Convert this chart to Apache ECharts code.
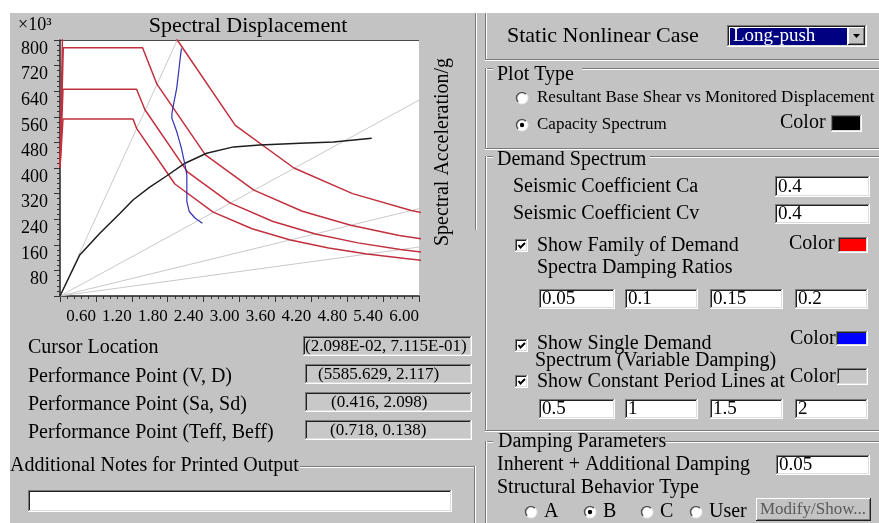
<!DOCTYPE html>
<html>
<head>
<meta charset="utf-8">
<script src="https://cdn.jsdelivr.net/npm/echarts@6/dist/echarts.min.js"></script>
<style>
  html, body { margin: 0; padding: 0; background: #fff; }
  #wrap { position: relative; width: 879px; height: 523px; overflow: hidden; }
  #dlg { position: absolute; left: 10px; top: 13px; width: 869px; height: 510px; background: #c3c3c3; }
  #chart { position: absolute; left: 0; top: 0; width: 879px; height: 523px; }
</style>
</head>
<body>
<div id="wrap">
  <div id="dlg"></div>
  <div id="chart"></div>
</div>
<script>
  // Sd (in) vs Sa (x10^-3 g)
  var sdTicks = [0.60, 1.20, 1.80, 2.40, 3.00, 3.60, 4.20, 4.80, 5.40, 6.00];
  var saTicks = [80, 160, 240, 320, 400, 480, 560, 640, 720, 800];

  // constant period lines T = 0.5, 1, 1.5, 2
  var periodLine05 = [[0, 0], [1.96, 800]];
  var periodLine10 = [[0, 0], [6.0, 612]];
  var periodLine15 = [[0, 0], [6.0, 273]];
  var periodLine20 = [[0, 0], [6.0, 153]];

  // family of demand spectra (damping 0.05, 0.1, 0.15, 0.2)
  var demand005 = [[0, 400], [0.06, 1000], [1.56, 1000], [1.96, 800], [2.93, 533], [3.91, 400], [4.89, 320], [5.87, 267], [6.85, 229]];
  var demand010 = [[0, 400], [0.055, 776], [1.38, 776], [1.62, 662], [2.43, 441], [3.24, 331], [4.05, 265], [4.86, 221], [5.67, 189], [6.48, 166]];
  var demand015 = [[0, 400], [0.05, 646], [1.28, 646], [1.42, 582], [2.13, 388], [2.84, 291], [3.56, 233], [4.27, 194], [4.98, 166], [5.69, 145], [6.40, 129]];
  var demand020 = [[0, 400], [0.05, 553], [1.22, 553], [1.28, 524], [1.92, 350], [2.56, 262], [3.21, 210], [3.85, 175], [4.49, 150], [5.13, 131], [5.77, 117], [6.41, 105]];

  // capacity spectrum
  var capacity = [[0, 0], [0.33, 128], [0.67, 197], [1.0, 258], [1.22, 300], [1.5, 340], [1.78, 375], [2.09, 415], [2.45, 446], [2.9, 466], [3.34, 472], [4.01, 477], [4.57, 481], [5.21, 493]];

  // single demand spectrum (variable damping)
  var singleDemand = [[2.03, 774], [2.01, 745], [1.99, 711], [1.97, 680], [1.95, 649], [1.92, 620], [1.89, 592], [1.87, 570], [1.87, 555], [1.91, 535], [1.95, 514], [1.99, 488], [2.03, 461], [2.06, 435], [2.09, 409], [2.12, 378], [2.12, 340], [2.12, 295], [2.16, 264], [2.26, 243], [2.38, 227]];

  var dampingRatios = ['0.05', '0.1', '0.15', '0.2'];
  var periodValues = ['0.5', '1', '1.5', '2'];

  var FONT = '"Liberation Serif", "Times New Roman", serif';
  var DARK = '#7a7a7a';

  function txt (x, y, s, size, extra) {
    var st = {
      text: s, x: x, y: y,
      fontSize: size, fontFamily: FONT, fill: '#000',
      align: 'left', verticalAlign: 'middle',
      textAlign: 'left', textVerticalAlign: 'middle'
    };
    for (var k in extra) st[k] = extra[k];
    return {type: 'text', silent: true, style: st};
  }
  function ln (x1, y1, x2, y2, c, w) {
    return {type: 'line', silent: true, shape: {x1: x1, y1: y1, x2: x2, y2: y2}, style: {stroke: c, lineWidth: w || 1}};
  }
  function etchH (x1, x2, y) {
    return [ln(x1, y + 0.5, x2, y + 0.5, DARK), ln(x1, y + 1.5, x2, y + 1.5, '#fff')];
  }
  function etchV (x, y1, y2) {
    return [ln(x + 0.5, y1, x + 0.5, y2, DARK), ln(x + 1.5, y1, x + 1.5, y2, '#fff')];
  }
  function sunken (x, y, w, h, fill) {
    return [
      {type: 'rect', silent: true, shape: {x: x, y: y, width: w, height: h}, style: {fill: fill}},
      ln(x, y + 0.5, x + w, y + 0.5, DARK), ln(x + 0.5, y, x + 0.5, y + h, DARK),
      ln(x + 1, y + 1.5, x + w - 1, y + 1.5, '#202020'), ln(x + 1.5, y + 1, x + 1.5, y + h - 1, '#202020'),
      ln(x, y + h - 0.5, x + w, y + h - 0.5, '#fff'), ln(x + w - 0.5, y, x + w - 0.5, y + h, '#fff'),
      ln(x + 1, y + h - 1.5, x + w - 1, y + h - 1.5, '#dcdcdc'), ln(x + w - 1.5, y + 1, x + w - 1.5, y + h - 1, '#dcdcdc')
    ];
  }
  function raised (x, y, w, h) {
    return [
      {type: 'rect', silent: true, shape: {x: x, y: y, width: w, height: h}, style: {fill: '#c3c3c3'}},
      ln(x, y + 0.5, x + w, y + 0.5, '#fff'), ln(x + 0.5, y, x + 0.5, y + h, '#fff'),
      ln(x, y + h - 0.5, x + w, y + h - 0.5, '#202020'), ln(x + w - 0.5, y, x + w - 0.5, y + h, '#202020'),
      ln(x + 1, y + h - 1.5, x + w - 1, y + h - 1.5, DARK), ln(x + w - 1.5, y + 1, x + w - 1.5, y + h - 1, DARK)
    ];
  }
  function checkbox (x, y) {
    return sunken(x, y, 13, 13, '#fff').concat([{
      type: 'polyline', silent: true,
      shape: {points: [[x + 3.5, y + 6], [x + 5.5, y + 8.5], [x + 10, y + 4]]},
      style: {stroke: '#000', lineWidth: 2, fill: null}
    }]);
  }
  function radio (cx, cy, on) {
    var out = [
      {type: 'circle', silent: true, shape: {cx: cx, cy: cy, r: 6}, style: {fill: '#fff', stroke: '#e8e8e8', lineWidth: 1}},
      {type: 'arc', silent: true, shape: {cx: cx, cy: cy, r: 5.5, startAngle: Math.PI * 0.75, endAngle: Math.PI * 1.75, clockwise: true}, style: {stroke: '#555', lineWidth: 1.6, fill: null}}
    ];
    if (on) out.push({type: 'circle', silent: true, shape: {cx: cx, cy: cy, r: 2.2}, style: {fill: '#000'}});
    return out;
  }

  var g = [];
  function add (a) { g = g.concat(a); }

  // left panel
  add([txt(18, 25, '×10³', 18)]);
  add([{
    type: 'text', silent: true, x: 443, y: 152, rotation: Math.PI / 2,
    style: {text: 'Spectral Acceleration/g', x: 0, y: 0, fontSize: 20, fontFamily: FONT, fill: '#000',
      align: 'center', verticalAlign: 'middle', textAlign: 'center', textVerticalAlign: 'middle'}
  }]);
  add(ln(60, 40.5, 419, 40.5, '#4a4a4a', 1));
  add(etchV(475, 13, 230));

  var infoLabels = ['Cursor Location', 'Performance Point (V, D)', 'Performance Point (Sa, Sd)', 'Performance Point (Teff, Beff)'];
  var infoValues = ['(2.098E-02, 7.115E-01)', '(5585.629, 2.117)', '(0.416, 2.098)', '(0.718, 0.138)'];
  var infoY = [348, 377, 405, 433];
  var infoBoxY = [336, 364, 392, 420];
  var infoTextX = [305, 318, 331, 330];
  for (var i = 0; i < 4; i++) {
    add(txt(28, infoY[i], infoLabels[i], 20));
    add(sunken(i === 0 ? 303 : 305, infoBoxY[i], i === 0 ? 169 : 167, 20, '#c8c8c8'));
    add(txt(infoTextX[i], infoBoxY[i] + 10.5, infoValues[i], 17));
  }
  add(txt(10, 466, 'Additional Notes for Printed Output', 20));
  add(etchH(300, 474, 466));
  add(etchV(474, 466, 523));
  add(sunken(28, 490, 424, 22, '#fff'));

  // right panel: static nonlinear case
  add(etchV(485, 13, 60));
  add(etchH(485, 879, 59));
  add(txt(507, 36, 'Static Nonlinear Case', 22));
  add(sunken(727, 25, 140, 22, '#fff'));
  add([{type: 'rect', silent: true, shape: {x: 730, y: 28, width: 117, height: 17}, style: {fill: '#000080'}}]);
  add(txt(733, 36.5, 'Long-push', 19, {fill: '#fff'}));
  add(raised(848, 27, 17, 18));
  add([{type: 'polygon', silent: true, shape: {points: [[853, 34], [860, 34], [856.5, 38]]}, style: {fill: '#000'}}]);

  // plot type
  add(etchH(485, 493, 68));
  add(etchV(485, 68, 148));
  add(etchH(582, 879, 68));
  add(txt(497, 75, 'Plot Type', 20));
  add(radio(522, 98, false));
  add(txt(537, 98, 'Resultant Base Shear vs Monitored Displacement', 17));
  add(radio(522, 125, true));
  add(txt(537, 125, 'Capacity Spectrum', 17));
  add(txt(780, 123, 'Color', 20));
  add(sunken(831, 115, 31, 17, '#000'));
  add(etchH(485, 879, 148));

  // demand spectrum
  add(etchH(485, 493, 156));
  add(etchV(485, 156, 430));
  add(etchH(650, 879, 156));
  add(txt(497, 160, 'Demand Spectrum', 20));
  add(txt(513, 187, 'Seismic Coefficient Ca', 20));
  add(sunken(775, 176, 95, 21, '#fff'));
  add(txt(778, 187, '0.4', 19));
  add(txt(513, 214, 'Seismic Coefficient Cv', 20));
  add(sunken(775, 204, 95, 20, '#fff'));
  add(txt(778, 214, '0.4', 19));
  add(checkbox(515, 239));
  add(txt(537, 246, 'Show Family of Demand', 20));
  add(txt(789, 244, 'Color', 20));
  add(sunken(838, 237, 30, 16, '#ff0000'));
  add(txt(537, 268, 'Spectra Damping Ratios', 20));
  var rowX = [539, 625, 710, 795];
  var rowW = [76, 73, 73, 73];
  for (var j = 0; j < 4; j++) {
    add(sunken(rowX[j], 289, rowW[j], 20, '#fff'));
    add(txt(rowX[j] + 3, 299.5, dampingRatios[j], 19));
    add(sunken(rowX[j], 399, rowW[j], 20, '#fff'));
    add(txt(rowX[j] + 3, 409.5, periodValues[j], 19));
  }
  add(checkbox(515, 339));
  add(txt(537, 344, 'Show Single Demand', 20));
  add(txt(790, 339, 'Color', 20));
  add(sunken(836, 331, 32, 15, '#0000ff'));
  add(txt(535, 361, 'Spectrum (Variable Damping)', 20));
  add(checkbox(515, 375));
  add(txt(537, 382, 'Show Constant Period Lines at', 20));
  add(txt(790, 377, 'Color', 20));
  add(sunken(837, 368, 31, 17, '#c8c8c8'));
  add(etchH(485, 879, 430));

  // damping parameters
  add(etchH(485, 493, 441));
  add(etchV(485, 441, 523));
  add(etchH(665, 879, 441));
  add(txt(498, 442, 'Damping Parameters', 20));
  add(txt(497, 465, 'Inherent + Additional Damping', 20));
  add(sunken(776, 455, 94, 20, '#fff'));
  add(txt(779, 465, '0.05', 19));
  add(txt(497, 488, 'Structural Behavior Type', 20));
  var behaviors = ['A', 'B', 'C', 'User'];
  var behX = [531, 590, 647, 696];
  for (var b = 0; b < 4; b++) {
    add(radio(behX[b], 512, b === 1));
    add(txt(behX[b] + 13, 512, behaviors[b], 20));
  }
  add(raised(756, 498, 115, 23));
  add(txt(813, 510, 'Modify/Show...', 17, {fill: '#5a5a5a', align: 'center', textAlign: 'center'}));

  var myChart = echarts.init(document.getElementById('chart'), null, {renderer: 'canvas'});
  var grayLine = {color: '#c9c9c9', width: 1};
  var redLine = {color: '#c2303e', width: 1.5};
  function lineSeries (name, data, style, z) {
    return {name: name, type: 'line', data: data, symbol: 'none', silent: true, z: z, lineStyle: style, clip: true};
  }
  myChart.setOption({
    animation: false,
    backgroundColor: 'transparent',
    title: {
      text: 'Spectral Displacement',
      left: 243, top: 10, textAlign: 'center',
      textStyle: {fontFamily: FONT, fontSize: 22, fontWeight: 'normal', color: '#000'}
    },
    grid: {left: 60, top: 40, width: 359, height: 256, show: true, backgroundColor: '#fff', borderWidth: 0},
    xAxis: {
      type: 'value', min: 0, max: 6, interval: 0.6,
      axisLine: {lineStyle: {color: '#222', width: 1.5}},
      axisTick: {length: 6, lineStyle: {color: '#333'}},
      minorTick: {show: true, splitNumber: 5, length: 3, lineStyle: {color: '#333'}},
      splitLine: {show: false},
      axisLabel: {
        showMinLabel: false, margin: 12, align: 'right',
        fontFamily: FONT, fontSize: 17, color: '#000',
        formatter: function (v) { return v.toFixed(2); }
      }
    },
    yAxis: {
      type: 'value', min: 0, max: 800, interval: 80,
      axisLine: {show: true, lineStyle: {color: '#222', width: 1.5}},
      axisTick: {show: true, length: 6, lineStyle: {color: '#333'}},
      minorTick: {show: true, splitNumber: 5, length: 3, lineStyle: {color: '#333'}},
      splitLine: {show: false},
      axisLabel: {
        showMinLabel: false, margin: 12, verticalAlign: 'top',
        fontFamily: FONT, fontSize: 18, color: '#000'
      }
    },
    series: [
      lineSeries('T=0.5', periodLine05, grayLine, 1),
      lineSeries('T=1', periodLine10, grayLine, 1),
      lineSeries('T=1.5', periodLine15, grayLine, 1),
      lineSeries('T=2', periodLine20, grayLine, 1),
      lineSeries('0.05', demand005, redLine, 2),
      lineSeries('0.1', demand010, redLine, 2),
      lineSeries('0.15', demand015, redLine, 2),
      lineSeries('0.2', demand020, redLine, 2),
      lineSeries('Capacity', capacity, {color: '#1e1e1e', width: 1.5}, 3),
      lineSeries('Single demand', singleDemand, {color: '#3232b4', width: 1.2}, 4)
    ],
    graphic: {elements: g}
  });
</script>
</body>
</html>
